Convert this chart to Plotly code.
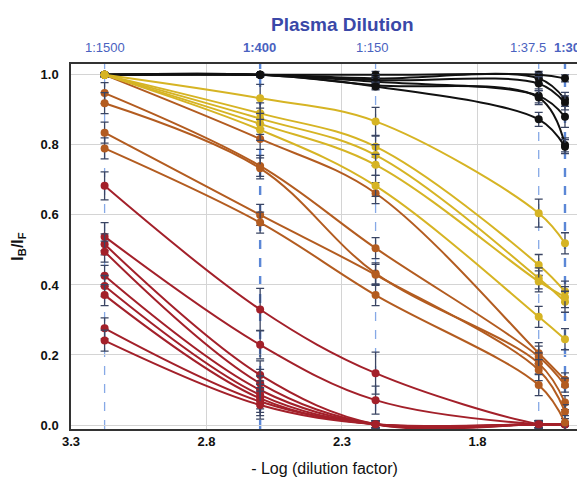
import plotly.graph_objects as go

# x positions: -log(dilution factor)
dilution_labels = ["1:1500", "1:400", "1:150", "1:37.5", "1:30"]
x_pos = [3.176, 2.602, 2.176, 1.574, 1.477]

black_series = [
    [1.0, 1.0, 1.0, 1.0, 0.99],
    [1.0, 1.0, 0.99, 0.99, 0.93],
    [1.0, 1.0, 0.985, 0.975, 0.92],
    [1.0, 1.0, 0.98, 0.94, 0.88],
    [1.0, 1.0, 0.97, 0.935, 0.80],
    [1.0, 1.0, 0.967, 0.873, 0.795],
]
black_err = [
    [0.005, 0.005, 0.01, 0.01, 0.01],
    [0.005, 0.005, 0.01, 0.015, 0.02],
    [0.005, 0.005, 0.01, 0.02, 0.02],
    [0.005, 0.005, 0.01, 0.02, 0.03],
    [0.005, 0.005, 0.01, 0.02, 0.02],
    [0.005, 0.005, 0.01, 0.02, 0.02],
]

yellow_series = [
    [1.0, 0.933, 0.867, 0.605, 0.519],
    [1.0, 0.890, 0.795, 0.457, 0.381],
    [1.0, 0.875, 0.771, 0.419, 0.352],
    [1.0, 0.860, 0.743, 0.410, 0.365],
    [1.0, 0.843, 0.683, 0.309, 0.245],
]
yellow_err = [
    [0.005, 0.040, 0.040, 0.040, 0.030],
    [0.005, 0.030, 0.030, 0.030, 0.030],
    [0.005, 0.030, 0.030, 0.030, 0.030],
    [0.005, 0.030, 0.030, 0.030, 0.030],
    [0.005, 0.030, 0.030, 0.030, 0.030],
]

orange_series = [
    [1.0, 0.817, 0.662, 0.205, 0.129],
    [0.948, 0.740, 0.505, 0.195, 0.114],
    [0.919, 0.733, 0.433, 0.176, 0.064],
    [0.835, 0.600, 0.429, 0.157, 0.038],
    [0.790, 0.578, 0.371, 0.114, 0.007],
]
orange_err = [
    [0.005, 0.030, 0.030, 0.030, 0.020],
    [0.030, 0.030, 0.030, 0.030, 0.020],
    [0.030, 0.030, 0.030, 0.030, 0.020],
    [0.030, 0.030, 0.030, 0.030, 0.020],
    [0.030, 0.030, 0.030, 0.030, 0.020],
]

red_series = [
    [0.683, 0.330, 0.148, 0.003, 0.002],
    [0.538, 0.229, 0.071, 0.002, 0.002],
    [0.516, 0.143, 0.002, 0.002, 0.002],
    [0.495, 0.119, 0.002, 0.002, 0.002],
    [0.426, 0.100, 0.002, 0.002, 0.002],
    [0.397, 0.086, 0.002, 0.002, 0.002],
    [0.371, 0.076, 0.002, 0.002, 0.002],
    [0.276, 0.067, 0.002, 0.002, 0.002],
    [0.241, 0.057, 0.002, 0.002, 0.002],
]
red_err = [
    [0.040, 0.060, 0.060, 0.010, 0.005],
    [0.040, 0.040, 0.040, 0.010, 0.005],
    [0.030, 0.040, 0.010, 0.010, 0.005],
    [0.030, 0.040, 0.010, 0.010, 0.005],
    [0.030, 0.040, 0.010, 0.010, 0.005],
    [0.030, 0.040, 0.010, 0.010, 0.005],
    [0.030, 0.040, 0.010, 0.010, 0.005],
    [0.030, 0.040, 0.010, 0.010, 0.005],
    [0.030, 0.040, 0.010, 0.010, 0.005],
]

x_ticks = [3.3, 2.8, 2.3, 1.8]
y_ticks = [0.0, 0.2, 0.4, 0.6, 0.8, 1.0]

groups = [
    (black_series, black_err, "#111111"),
    (red_series, red_err, "#a3202a"),
    (orange_series, orange_err, "#b35c20"),
    (yellow_series, yellow_err, "#d6b424"),
]

ERR_COLOR = "#3a4563"
FONT = "Liberation Sans, Arial, sans-serif"

fig = go.Figure()

for series_list, err_list, color in groups:
    for ys, es in zip(series_list, err_list):
        fig.add_trace(go.Scatter(
            x=x_pos, y=ys,
            mode="lines+markers",
            line=dict(color=color, width=2, shape="spline", smoothing=1.0),
            marker=dict(color=color, size=8),
            error_y=dict(type="data", array=es, visible=True,
                         color=ERR_COLOR, thickness=1.3, width=4),
            showlegend=False, hoverinfo="skip",
        ))

# vertical dashed lines and top labels at dilution positions
bold_set = {"1:400", "1:30"}
label_shift = {"1:1500": 0, "1:400": -1, "1:150": -3, "1:37.5": -11, "1:30": 17}
label_anchor = {"1:1500": "center", "1:400": "center", "1:150": "center",
                "1:37.5": "center", "1:30": "right"}
for lab, xv in zip(dilution_labels, x_pos):
    thick = lab in bold_set
    fig.add_shape(type="line", xref="x", yref="y domain",
                  x0=xv, x1=xv, y0=0, y1=1,
                  line=dict(color="#5b87d6" if thick else "#86a9e6",
                            width=2.4 if thick else 1.3, dash="dash"),
                  layer="below")
    fig.add_annotation(
        x=xv, xref="x", y=1, yref="paper", yanchor="bottom",
        xanchor=label_anchor[lab], yshift=7, xshift=label_shift[lab],
        text=f"<b>{lab}</b>" if thick else lab, showarrow=False,
        font=dict(size=13, family=FONT, color="#4a62c0"),
    )

fig.add_annotation(
    x=0.535, xref="paper", y=1, yref="paper", yanchor="bottom",
    yshift=27, text="<b>Plasma Dilution</b>", showarrow=False,
    font=dict(size=19, family=FONT, color="#3a48a8"),
)

# page has an 8px body margin, so the figure is sized to fit inside it
fig.update_layout(
    width=577, height=473,
    margin=dict(l=63, r=5, t=56, b=52),
    plot_bgcolor="white", paper_bgcolor="white",
    font=dict(family=FONT, color="#111111"),
    xaxis=dict(
        range=[3.3, 1.429],
        tickvals=x_ticks, ticktext=[f"<b>{v:.1f}</b>" for v in x_ticks],
        tickfont=dict(size=13, family=FONT, color="#111111"),
        showgrid=True, gridcolor="#d4d4d4", gridwidth=1.2,
        zeroline=False,
        showline=True, linecolor="#333333", linewidth=1.5, mirror=True,
        ticks="", ticklen=0, ticklabelstandoff=0,
        title=dict(text="- Log (dilution factor)",
                   font=dict(size=16, family=FONT, color="#111111"),
                   standoff=14),
    ),
    yaxis=dict(
        range=[-0.0114, 1.031],
        tickvals=y_ticks, ticktext=[f"<b>{v:.1f}</b>" for v in y_ticks],
        tickfont=dict(size=13, family=FONT, color="#111111"),
        showgrid=True, gridcolor="#d4d4d4", gridwidth=1.2,
        zeroline=False,
        showline=True, linecolor="#333333", linewidth=1.5, mirror=True,
        ticks="", ticklen=0, ticklabelstandoff=8,
        title=dict(text="<b>I<sub>B</sub>/I<sub>F</sub></b>",
                   font=dict(size=16, family=FONT, color="#111111"),
                   standoff=13),
    ),
)

fig.write_html("out.html")
